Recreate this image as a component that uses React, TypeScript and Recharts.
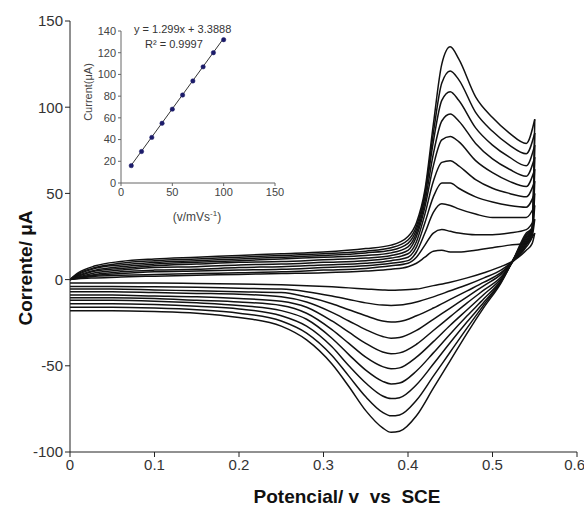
import React from "react";
import { LineChart, Line, XAxis, YAxis } from "recharts";

// ---- Main voltammograms (scan rates 10..100 mV/s) ----
const scanRates = [10, 20, 30, 40, 50, 60, 70, 80, 90, 100];

// forward (anodic) sweep potentials, V
const anodicPotentials = [0, 0.01, 0.03, 0.06, 0.1, 0.15, 0.2, 0.25, 0.3, 0.35, 0.38, 0.4, 0.41, 0.42, 0.43, 0.44, 0.45, 0.46, 0.48, 0.5, 0.52, 0.54, 0.55];
// reverse (cathodic) sweep potentials, V (listed ascending)
const cathodicPotentials = [0, 0.05, 0.1, 0.15, 0.2, 0.25, 0.28, 0.31, 0.33, 0.35, 0.37, 0.38, 0.39, 0.41, 0.43, 0.45, 0.47, 0.49, 0.51, 0.525, 0.54, 0.547, 0.55];

const ox10 = [0, 0.5, 1, 1.5, 2, 2.5, 3, 3.5, 4, 5, 6, 7.5, 9.5, 13, 16.5, 17, 16, 16, 17, 18.5, 20, 21, 27];
const ox20 = [0, 0.8, 2, 2.5, 3, 3.5, 4, 4.5, 5.5, 6.5, 8, 9.5, 13, 20, 27, 29, 28, 27, 26, 26, 27, 29, 35];
const ox30 = [0, 1, 2.5, 3.5, 4.5, 5, 5.5, 6, 7, 8, 9.5, 11, 16, 27, 39, 44, 43, 41, 38, 36, 36, 36, 43];
const ox40 = [0, 1.2, 3, 4.5, 5.5, 6, 7, 7.5, 8.5, 9.5, 11, 13, 19, 33, 48, 56, 56, 53, 48, 45, 43, 42, 50];
const ox50 = [0, 1.5, 4, 5.5, 7, 7.5, 8.5, 9, 10, 11, 12.5, 15, 22, 38, 57, 68, 69, 66, 58, 53, 50, 48, 57];
const ox60 = [0, 2, 5, 6.5, 8, 9, 10, 10.5, 11.5, 12.5, 14, 17, 25, 42, 66, 81, 83, 80, 69, 62, 57, 54, 64];
const ox70 = [0, 2.5, 5.5, 7.5, 9, 10, 11, 12, 13, 14, 15.5, 19, 27, 45, 73, 92, 96, 92, 79, 70, 64, 60, 71];
const ox80 = [0, 3, 6.5, 8.5, 10, 11, 12, 13, 14, 15.5, 17, 21, 29, 48, 80, 104, 109, 104, 88, 78, 71, 66, 78];
const ox90 = [0, 3.5, 7, 9.5, 11, 12, 13, 14, 15, 16.5, 18.5, 23, 31, 50, 85, 114, 121, 116, 97, 86, 78, 73, 85];
const ox100 = [0, 4, 8, 10.5, 12, 13, 14, 15, 16, 18, 20, 25, 33, 52, 90, 125, 135, 128, 106, 94, 85, 79, 93];

const red10 = [-2, -2, -2, -2.2, -2.5, -3, -3.5, -4.2, -4.8, -5.4, -6, -6.2, -6.1, -5.5, -3.5, -1.5, 1, 4, 7.5, 11, 17, 21, 27];
const red20 = [-4, -4, -4.2, -4.5, -5, -5.5, -7, -9.5, -11.5, -13.5, -14.8, -15, -14.8, -13, -10, -6.5, -3, 1, 5.5, 11, 19, 25, 35];
const red30 = [-5.5, -5.5, -6, -6.5, -7, -7.5, -10, -14, -17.5, -21, -24, -24.6, -24.3, -21, -16.5, -11.5, -6.5, -1.5, 4, 11, 20, 27, 43];
const red40 = [-7, -7, -7.5, -8, -8.5, -10, -13, -19, -24, -29, -33, -34, -33.6, -29.5, -23, -16.5, -10, -3.5, 3, 11, 21, 28, 50];
const red50 = [-9, -9, -9.5, -10, -11, -12.5, -16, -24, -30.5, -37, -42, -43, -42.5, -37.5, -29.5, -21.5, -13.5, -6, 1.5, 11.5, 22, 29, 57];
const red60 = [-10.5, -10.5, -11, -12, -13, -15, -19.5, -29, -37, -45, -50.5, -51.7, -51.2, -45, -36, -26.5, -17.5, -8.5, 0.5, 11.5, 23, 29.5, 64];
const red70 = [-12, -12, -12.5, -13.5, -15, -18, -23, -34, -43.5, -52.5, -59, -60.5, -60, -53, -42.5, -31.5, -21, -11, -0.5, 11.5, 24, 30, 71];
const red80 = [-14, -14, -14.5, -15.5, -17, -21, -27, -39, -50, -60, -67.5, -69, -68.5, -61, -49, -36.5, -24.5, -13, -1, 12, 25, 30, 78];
const red90 = [-16, -16, -16.5, -17.5, -19.5, -24, -31, -44, -56, -68, -77, -79, -78.5, -70, -56, -42, -28, -14.5, -1.5, 12, 26, 30, 85];
const red100 = [-18, -18, -18.5, -19.5, -22, -27, -35, -49, -62, -76, -86, -88.6, -88, -79, -63, -47, -31, -16, -2, 12, 27, 30, 93];

const anodicSeries = [ox10, ox20, ox30, ox40, ox50, ox60, ox70, ox80, ox90, ox100];
const cathodicSeries = [red10, red20, red30, red40, red50, red60, red70, red80, red90, red100];

const xTicks = [0, 0.1, 0.2, 0.3, 0.4, 0.5, 0.6];
const yTicks = [-100, -50, 0, 50, 100, 150];

// ---- Inset: peak current vs scan rate ----
const insetScanRates = [10, 20, 30, 40, 50, 60, 70, 80, 90, 100];
const insetPeakCurrents = [16, 29, 42, 55, 68, 81, 94, 107, 120, 132];
const trendScanRates = [10, 100];
const trendCurrents = [16.4, 133.3];
const insetXTicks = [0, 50, 100, 150];
const insetYTicks = [0, 20, 40, 60, 80, 100, 120, 140];

const FONT = "'Liberation Sans', Arial, sans-serif";

const toPoints = (xs: number[], ys: number[]) => xs.map((x, i) => ({ x, y: ys[i] }));

export default function App() {
  const insetPoints = toPoints(insetScanRates, insetPeakCurrents);
  const trendPoints = toPoints(trendScanRates, trendCurrents);

  return (
    <div style={{ position: "absolute", left: 0, top: 0, width: 584, height: 513, background: "#fff", fontFamily: FONT }}>
      <LineChart width={584} height={513} margin={{ top: 21, right: 7, bottom: 31, left: 30 }}>
        <XAxis
          type="number"
          dataKey="x"
          domain={[0, 0.6]}
          ticks={xTicks}
          allowDataOverflow
          height={30}
          stroke="#222"
          tick={{ fill: "#333", fontSize: 15, fontFamily: FONT }}
          tickSize={5}
        />
        <YAxis
          type="number"
          dataKey="y"
          domain={[-100, 150]}
          ticks={yTicks}
          allowDataOverflow
          width={40}
          stroke="#222"
          tick={{ fill: "#333", fontSize: 15, fontFamily: FONT }}
          tickSize={5}
        />
        {anodicSeries.map((ys, i) => (
          <Line
            key={"ox" + scanRates[i]}
            data={toPoints(anodicPotentials, ys)}
            dataKey="y"
            type="monotone"
            stroke="#111"
            strokeWidth={1.5}
            dot={false}
            isAnimationActive={false}
          />
        ))}
        {cathodicSeries.map((ys, i) => (
          <Line
            key={"red" + scanRates[i]}
            data={toPoints(cathodicPotentials, ys)}
            dataKey="y"
            type="monotone"
            stroke="#111"
            strokeWidth={1.5}
            dot={false}
            isAnimationActive={false}
          />
        ))}
      </LineChart>

      <div style={{ position: "absolute", left: 80, top: 10 }}>
        <LineChart width={210} height={220} margin={{ top: 21, right: 15, bottom: 17, left: 11 }}>
          <XAxis
            type="number"
            dataKey="x"
            domain={[0, 150]}
            ticks={insetXTicks}
            height={30}
            stroke="#666"
            tick={{ fill: "#444", fontSize: 11, fontFamily: FONT }}
            tickSize={3}
          />
          <YAxis
            type="number"
            dataKey="y"
            domain={[0, 140]}
            ticks={insetYTicks}
            width={30}
            stroke="#666"
            tick={{ fill: "#444", fontSize: 11, fontFamily: FONT }}
            tickSize={3}
          />
          <Line data={trendPoints} dataKey="y" type="linear" stroke="#333" strokeWidth={1} dot={false} isAnimationActive={false} />
          <Line
            data={insetPoints}
            dataKey="y"
            type="linear"
            stroke="none"
            dot={{ r: 2.2, fill: "#1c1c6a", stroke: "#1c1c6a", strokeWidth: 0.5 }}
            isAnimationActive={false}
          />
        </LineChart>
      </div>

      <div style={{ position: "absolute", left: 134, top: 23, fontSize: 11, color: "#333", whiteSpace: "nowrap" }}>
        y = 1.299x + 3.3888
      </div>
      <div style={{ position: "absolute", left: 145, top: 38, fontSize: 11, color: "#333", whiteSpace: "nowrap" }}>
        R² = 0.9997
      </div>
      <div
        style={{
          position: "absolute",
          left: 88,
          top: 92,
          transform: "translate(-50%, -50%) rotate(-90deg)",
          fontSize: 11,
          color: "#444",
          whiteSpace: "nowrap",
        }}
      >
        Current(μA)
      </div>
      <div
        style={{
          position: "absolute",
          left: 197,
          top: 216,
          transform: "translate(-50%, -50%)",
          fontSize: 12,
          color: "#444",
          whiteSpace: "nowrap",
        }}
      >
        (v/mVs<sup style={{ fontSize: 8 }}>-1</sup>)
      </div>

      <div
        style={{
          position: "absolute",
          left: 347,
          top: 497,
          transform: "translate(-50%, -50%)",
          fontSize: 19,
          fontWeight: "bold",
          color: "#111",
          whiteSpace: "pre",
        }}
      >
        {"Potencial/ v  vs  SCE"}
      </div>
      <div
        style={{
          position: "absolute",
          left: 26,
          top: 268,
          transform: "translate(-50%, -50%) rotate(-90deg)",
          fontSize: 19,
          fontWeight: "bold",
          color: "#111",
          whiteSpace: "nowrap",
        }}
      >
        Corrente/ μA
      </div>
    </div>
  );
}
